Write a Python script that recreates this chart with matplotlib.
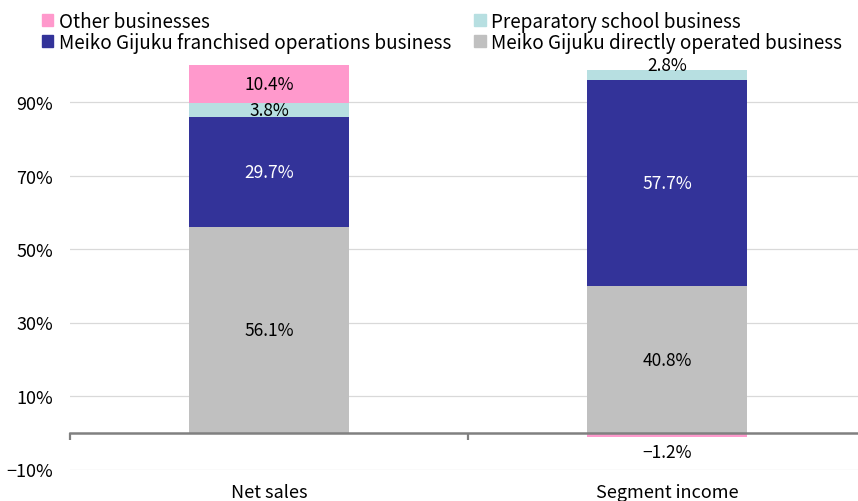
import matplotlib.pyplot as plt
import numpy as np
from matplotlib.patches import Patch

categories = ["Net sales", "Segment income"]
segments = [
    "Meiko Gijuku directly operated business",
    "Meiko Gijuku franchised operations business",
    "Preparatory school business",
    "Other businesses",
]
directly_operated = [56.1, 40.8]
franchised = [29.7, 57.7]
preparatory = [3.8, 2.8]
other = [10.4, -1.2]
y_ticks = [-10, 10, 30, 50, 70, 90]

colors = ["#C0C0C0", "#333399", "#B7DFE1", "#FF99CC"]
label_colors = ["black", "white", "black", "black"]

plt.rcParams["font.family"] = ["Noto Sans CJK JP", "DejaVu Sans"]

values = np.array([directly_operated, franchised, preparatory, other])
# 100% stacked: each bar normalised by the sum of absolute values
shares = values / np.abs(values).sum(axis=0) * 100

fig = plt.figure(figsize=(8.58, 5.02), dpi=100)
ax = fig.add_axes([70 / 858, 31.5 / 502, 796 / 858, 404.25 / 502])

x = np.arange(len(categories))
pos_base = np.zeros(len(categories))
neg_base = np.zeros(len(categories))
for i, name in enumerate(segments):
    s = shares[i]
    v = values[i]
    bottom = np.where(s >= 0, pos_base, neg_base)
    ax.bar(x, s, width=0.4, bottom=bottom, color=colors[i], zorder=3)
    for j in range(len(categories)):
        txt = f"{v[j]:.1f}%".replace("-", "\u2212")
        if abs(s[j]) >= 3:
            ax.text(x[j], bottom[j] + s[j] / 2, txt, ha="center", va="center",
                    color=label_colors[i], fontsize=12.5, zorder=4)
        elif s[j] >= 0:
            ax.annotate(txt, (x[j], bottom[j] + s[j]), xytext=(0, 3),
                        textcoords="offset points", ha="center", va="center",
                        fontsize=12.5, zorder=4)
        else:
            ax.annotate(txt, (x[j], bottom[j] + s[j]), xytext=(0, -11),
                        textcoords="offset points", ha="center", va="center",
                        fontsize=12.5, zorder=4)
    pos_base = np.where(s >= 0, pos_base + s, pos_base)
    neg_base = np.where(s < 0, neg_base + s, neg_base)

ax.set_xlim(-0.5, len(categories) - 0.5)
ax.set_ylim(-10, 100)
ax.set_yticks(y_ticks)
ax.set_yticklabels([f"{t}%".replace("-", "\u2212") for t in y_ticks], fontsize=13)
ax.tick_params(axis="y", length=0, pad=12)
ax.yaxis.grid(True, color="#D9D9D9", linewidth=0.9, zorder=0)

ax.set_xticks(np.arange(len(categories) + 1) - 0.5)
ax.set_xticklabels([])
ax.tick_params(axis="x", which="major", length=5, width=1.6, color="#808080", direction="out")
ax.set_xticks(x, minor=True)
ax.set_xticklabels(categories, minor=True)
ax.tick_params(axis="x", which="minor", length=0, pad=36, labelsize=13)

for side in ["left", "right", "top"]:
    ax.spines[side].set_visible(False)
ax.spines["bottom"].set_position(("data", 0))
ax.spines["bottom"].set_color("#808080")
ax.spines["bottom"].set_linewidth(1.8)
ax.spines["bottom"].set_zorder(5)

order = [3, 1, 2, 0]
handles = [Patch(color=colors[k], label=segments[k]) for k in order]
fig.legend(handles=handles, loc="upper left", bbox_to_anchor=(36 / 858, 1 - 6 / 502),
           ncol=2, frameon=False, fontsize=13.6, handlelength=0.6, handleheight=0.6,
           handletextpad=0.3, columnspacing=1.24, labelspacing=0.0,
           borderaxespad=0.1, borderpad=0.2)

fig.savefig("out.png", dpi=100)
